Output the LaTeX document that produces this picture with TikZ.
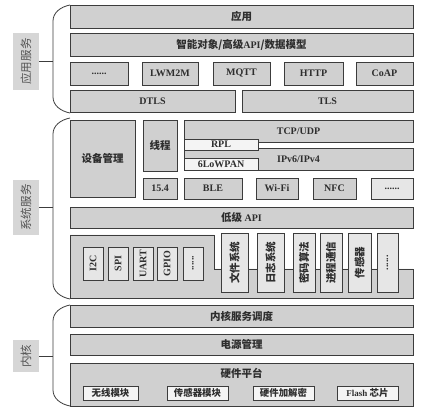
\documentclass[tikz,border=0pt]{standalone}
\usepackage{fontspec}
\setmainfont{Liberation Serif}
\newfontfamily\cjk{Noto Sans CJK SC}[Scale=1.05]
\definecolor{boxgray}{HTML}{D0D0D0}
\definecolor{lightbox}{HTML}{E6E6E6}
\definecolor{whitebox}{HTML}{F4F4F4}
\definecolor{lblgray}{HTML}{D6D6D6}
\definecolor{edge}{HTML}{3C3C3C}
\definecolor{txt}{HTML}{2E2E2E}
\definecolor{lbltxt}{HTML}{555555}
\newcommand\rbx[7]{\node[#1, minimum width={#5-#3}, minimum height={#6-#4}, anchor=north west] (#2) at (#3,#4) {#7};}
\newcommand\rvb[7]{\node[#1, rotate=90, minimum width={#6-#4}, minimum height={#5-#3}] (#2) at ({(#3+#5)/2},{(#4+#6)/2}) {#7};}
\begin{document}
\begin{tikzpicture}[x=1pt,y=-1pt,
  box/.style={draw=edge, fill=boxgray, line width=0.8pt, inner sep=0pt, outer sep=0pt, text=txt, font=\fontsize{10}{12}\selectfont\bfseries},
  lbox/.style={box, fill=lightbox},
  wbox/.style={box, fill=whitebox},
  lbl/.style={fill=lblgray, inner sep=0pt, outer sep=0pt, text=lbltxt, font=\cjk\fontsize{11}{13}\selectfont},
  brace/.style={draw=edge, line width=0.8pt},
  small/.style={font=\fontsize{9}{11}\selectfont\bfseries}
]
\useasboundingbox (0,0) rectangle (425,411);

% ---------- Section 1: application services ----------
\rbx{box}{app}{70}{5}{413}{28}{{\cjk 应用}}
\rbx{box}{smart}{70}{33}{413}{56}{{\cjk 智能对象/高级}API{\cjk /数据模型}}
\rbx{box}{dotsA}{70}{62}{128}{85}{......}
\rbx{box}{lwm}{142}{62}{198}{85}{LWM2M}
\rbx{box}{mqtt}{213}{62}{270}{85}{MQTT}
\rbx{box}{http}{284}{62}{343}{85}{HTTP}
\rbx{box}{coap}{356}{62}{413}{85}{CoAP}
\rbx{box}{dtls}{70}{90}{235}{112}{DTLS}
\rbx{box}{tls}{242}{90}{413}{112}{TLS}

% ---------- Section 2: system services ----------
\rbx{box}{dev}{70}{120}{135}{197}{{\cjk 设备管理}}
\rbx{box}{thr}{143}{120}{177}{171}{{\cjk 线程}}
\rbx{box}{tcp}{184}{120}{413}{142}{TCP/UDP}
\rbx{box}{ip}{184}{148}{413}{170}{IPv6/IPv4}
\rbx{wbox}{rpl}{184}{139}{258}{150}{RPL}
\rbx{wbox}{lowpan}{184}{158}{258}{170}{6LoWPAN}
\rbx{box}{s154}{143}{178}{177}{199}{15.4}
\rbx{box}{ble}{184}{178}{242}{199}{BLE}
\rbx{box}{wifi}{256}{178}{298}{199}{Wi-Fi}
\rbx{box}{nfc}{313}{178}{356}{199}{NFC}
\rbx{lbox}{dotsB}{371}{178}{413}{199}{......}
\rbx{box}{lapi}{70}{207}{413}{228}{{\cjk 低级} API}

\path[draw=edge, fill=boxgray, line width=0.8pt]
  (70,235) -- (214,235) -- (214,269) -- (413,269) -- (413,298) -- (70,298) -- cycle;

\rvb{lbox}{i2c}{83}{247}{103}{280}{I2C}
\rvb{lbox}{spi}{108}{247}{128}{280}{SPI}
\rvb{lbox}{uart}{133}{247}{153}{280}{UART}
\rvb{lbox}{gpio}{157}{247}{177}{280}{GPIO}
\rvb{lbox}{dotsC}{183}{247}{203}{280}{......}

\rvb{lbox}{fs}{221}{233}{248}{292}{{\cjk 文件系统}}
\rvb{lbox}{logs}{257}{233}{284}{292}{{\cjk 日志系统}}
\rvb{lbox}{cry}{293}{233}{315}{292}{{\cjk 密码算法}}
\rvb{lbox}{ipc}{320}{233}{342}{292}{{\cjk 进程通信}}
\rvb{lbox}{sen}{348}{233}{371}{292}{{\cjk 传感器}}
\rvb{lbox}{dotsD}{377}{233}{398}{292}{......}

% ---------- Section 3: kernel ----------
\rbx{box}{ksched}{70}{305}{413}{327}{{\cjk 内核服务调度}}
\rbx{box}{power}{70}{334}{413}{355}{{\cjk 电源管理}}
\rbx{box}{hw}{70}{363}{413}{406}{}
\node[text=txt, font=\cjk\fontsize{10}{12}\selectfont\bfseries, inner sep=0pt] (hwt) at ([yshift=-10pt]hw.north) {硬件平台};
\rbx{wbox,small}{wl}{83}{386}{138}{400}{{\cjk 无线模块}}
\rbx{wbox,small}{sens}{167}{386}{228}{400}{{\cjk 传感器模块}}
\rbx{wbox,small}{hcry}{253}{386}{314}{400}{{\cjk 硬件加解密}}
\rbx{wbox,small}{flash}{337}{386}{398}{400}{Flash {\cjk 芯片}}

% ---------- left labels and braces ----------
\rvb{lbl}{L1}{13}{33}{39}{90}{应用服务}
\rvb{lbl}{L2}{13}{180}{39}{235}{系统服务}
\rvb{lbl}{L3}{13}{340}{39}{372}{内核}

\coordinate (b1) at (53,61.5);
\coordinate (b2) at (53,207.5);
\coordinate (b3) at (53,356);

\draw[brace] (70,5) .. controls (60,7) and (53,13) .. (53,21) -- (53,97) .. controls (53,105) and (60,111) .. (70,113);
\draw[brace] (70,118) .. controls (60,120) and (53,126) .. (53,134) -- (53,283) .. controls (53,291) and (60,297) .. (70,299);
\draw[brace] (70,305) .. controls (60,307) and (53,313) .. (53,321) -- (53,390) .. controls (53,398) and (60,404) .. (70,406);

\draw[brace] (L1) -- (b1);
\draw[brace] (L2) -- (b2);
\draw[brace] (L3) -- (b3);
\end{tikzpicture}
\end{document}
